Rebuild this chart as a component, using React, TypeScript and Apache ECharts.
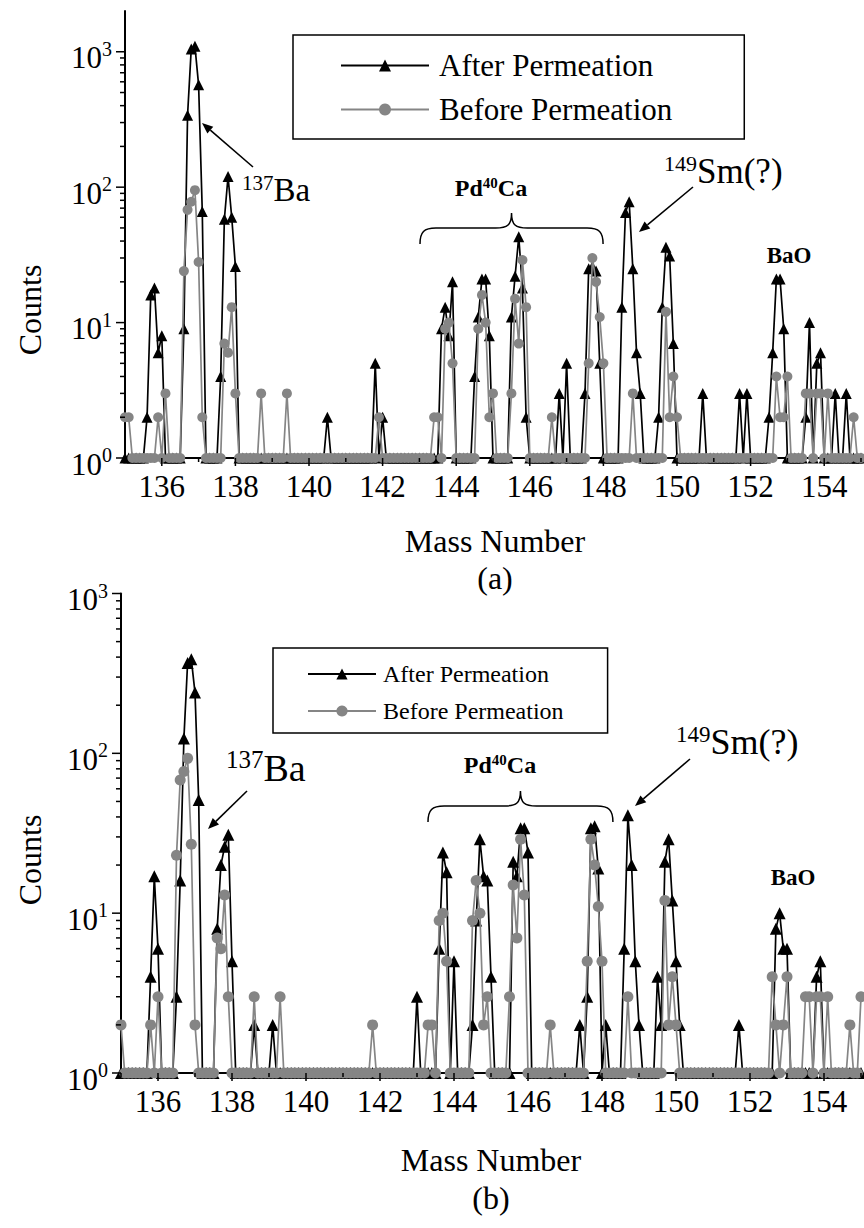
import React, { useEffect, useRef } from 'react';
import * as echarts from 'echarts';

// ---------- data ----------
const MASS_START = 135;
const MASS_STEP = 0.1;
const MASS_COUNT = 201; // 135.0 ... 155.0
const MASS = Array.from({ length: MASS_COUNT }, (_, i) => +(MASS_START + i * MASS_STEP).toFixed(1));

const X_TICK_VALUES = [135, 136, 137, 138, 139, 140, 141, 142, 143, 144, 145, 146, 147, 148, 149, 150, 151, 152, 153, 154, 155];
const X_LABEL_VALUES = [136, 138, 140, 142, 144, 146, 148, 150, 152, 154];
const Y_MAJOR = [1, 10, 100, 1000];
const Y_MINOR = [2, 3, 4, 5, 6, 7, 8, 9, 20, 30, 40, 50, 60, 70, 80, 90, 200, 300, 400, 500, 600, 700, 800, 900];

// (a) After Permeation — one row per mass unit (x.0 ... x.9)
const AFTER_A = [
  1, 1, 1, 1, 1, 1, 2, 16, 18, 6, // 135
  8, 1, 1, 1, 1, 1, 9, 340, 1050, 1100, // 136
  570, 66, 1, 1, 1, 1, 4, 58, 120, 60, // 137
  26, 1, 1, 1, 1, 1, 1, 1, 1, 1, // 138
  1, 1, 1, 1, 1, 1, 1, 1, 1, 1, // 139
  1, 1, 1, 1, 1, 2, 1, 1, 1, 1, // 140
  1, 1, 1, 1, 1, 1, 1, 1, 5, 1, // 141
  2, 1, 1, 1, 1, 1, 1, 1, 1, 1, // 142
  1, 1, 1, 1, 1, 1, 9, 13, 8, 20, // 143
  1, 1, 1, 1, 1, 4, 11, 21, 21, 8, // 144
  1, 1, 1, 1, 1, 11, 22, 43, 18, 2, // 145
  1, 1, 1, 1, 1, 1, 1, 1, 3, 1, // 146
  5, 1, 1, 1, 1, 3, 25, 26, 24, 5, // 147
  1, 1, 1, 1, 1, 13, 65, 78, 25, 6, // 148
  3, 1, 1, 1, 1, 2, 13, 36, 31, 7, // 149
  1, 1, 1, 1, 1, 1, 1, 3, 1, 1, // 150
  1, 1, 1, 1, 1, 1, 1, 3, 1, 3, // 151
  1, 1, 1, 1, 1, 2, 6, 21, 21, 9, // 152
  1, 1, 1, 1, 1, 2, 10, 1, 5, 6, // 153
  1, 1, 1, 3, 1, 1, 3, 1, 1, 1, // 154
  1, // 155
];

// (a) Before Permeation
const BEFORE_A = [
  2, 2, 1, 1, 1, 1, 1, 1, 1, 2, // 135
  1, 3, 1, 1, 1, 1, 24, 68, 78, 95, // 136
  28, 2, 1, 1, 1, 1, 1, 7, 6, 13, // 137
  3, 1, 1, 1, 1, 1, 1, 3, 1, 1, // 138
  1, 1, 1, 1, 3, 1, 1, 1, 1, 1, // 139
  1, 1, 1, 1, 1, 1, 1, 1, 1, 1, // 140
  1, 1, 1, 1, 1, 1, 1, 1, 1, 2, // 141
  1, 1, 1, 1, 1, 1, 1, 1, 1, 1, // 142
  1, 1, 1, 1, 2, 2, 1, 9, 10, 5, // 143
  1, 1, 1, 1, 1, 1, 9, 16, 10, 2, // 144
  3, 1, 1, 1, 1, 3, 15, 7, 29, 13, // 145
  1, 1, 1, 1, 1, 1, 2, 1, 1, 1, // 146
  1, 1, 1, 1, 1, 1, 5, 30, 20, 11, // 147
  5, 1, 1, 1, 1, 1, 1, 1, 3, 1, // 148
  1, 1, 1, 1, 1, 1, 1, 12, 2, 4, // 149
  2, 1, 1, 1, 1, 1, 1, 1, 1, 1, // 150
  1, 1, 1, 1, 1, 1, 1, 1, 1, 1, // 151
  1, 1, 1, 1, 1, 1, 1, 4, 2, 2, // 152
  4, 1, 1, 1, 1, 3, 3, 1, 3, 3, // 153
  1, 3, 1, 1, 1, 1, 1, 1, 2, 1, // 154
  1, // 155
];

// (b) After Permeation
const AFTER_B = [
  1, 1, 1, 1, 1, 1, 1, 1, 4, 17, // 135
  6, 1, 1, 1, 1, 3, 16, 124, 367, 388, // 136
  240, 51, 1, 1, 1, 1, 8, 20, 26, 31, // 137
  5, 1, 1, 1, 1, 1, 2, 1, 1, 1, // 138
  1, 2, 1, 1, 1, 1, 1, 1, 1, 1, // 139
  1, 1, 1, 1, 1, 1, 1, 1, 1, 1, // 140
  1, 1, 1, 1, 1, 1, 1, 1, 1, 1, // 141
  1, 1, 1, 1, 1, 1, 1, 1, 1, 1, // 142
  3, 1, 1, 1, 1, 1, 6, 24, 18, 1, // 143
  5, 1, 1, 1, 1, 2, 9, 29, 17, 16, // 144
  4, 1, 1, 1, 1, 1, 21, 17, 34, 34, // 145
  24, 1, 1, 1, 1, 1, 1, 1, 1, 1, // 146
  1, 1, 1, 1, 2, 1, 3, 34, 35, 19, // 147
  1, 2, 1, 1, 1, 1, 6, 41, 20, 5, // 148
  2, 1, 1, 1, 1, 4, 2, 21, 29, 12, // 149
  5, 2, 1, 1, 1, 1, 1, 1, 1, 1, // 150
  1, 1, 1, 1, 1, 1, 1, 2, 1, 1, // 151
  1, 1, 1, 1, 1, 1, 1, 8, 10, 6, // 152
  6, 1, 1, 1, 1, 1, 1, 1, 4, 5, // 153
  1, 1, 1, 1, 1, 1, 1, 1, 1, 1, // 154
  1, // 155
];

// (b) Before Permeation
const BEFORE_B = [
  2, 1, 1, 1, 1, 1, 1, 1, 2, 1, // 135
  3, 1, 1, 1, 1, 23, 68, 77, 93, 27, // 136
  2, 1, 1, 1, 1, 1, 7, 6, 13, 3, // 137
  1, 1, 1, 1, 1, 1, 3, 1, 1, 1, // 138
  1, 1, 1, 3, 1, 1, 1, 1, 1, 1, // 139
  1, 1, 1, 1, 1, 1, 1, 1, 1, 1, // 140
  1, 1, 1, 1, 1, 1, 1, 1, 2, 1, // 141
  1, 1, 1, 1, 1, 1, 1, 1, 1, 1, // 142
  1, 1, 1, 2, 2, 1, 9, 10, 5, 1, // 143
  1, 1, 1, 1, 1, 9, 16, 10, 2, 3, // 144
  1, 1, 1, 1, 1, 3, 15, 7, 29, 13, // 145
  1, 1, 1, 1, 1, 1, 2, 1, 1, 1, // 146
  1, 1, 1, 1, 1, 1, 5, 29, 20, 11, // 147
  5, 1, 1, 1, 1, 1, 1, 3, 1, 1, // 148
  1, 1, 1, 1, 1, 1, 1, 12, 2, 4, // 149
  2, 1, 1, 1, 1, 1, 1, 1, 1, 1, // 150
  1, 1, 1, 1, 1, 1, 1, 1, 1, 1, // 151
  1, 1, 1, 1, 1, 1, 4, 2, 1, 2, // 152
  4, 1, 1, 1, 1, 3, 3, 1, 3, 3, // 153
  1, 3, 1, 1, 1, 1, 1, 2, 1, 1, // 154
  3, // 155
];

const SERIES_NAMES = ['After Permeation', 'Before Permeation'];

// ---------- styling ----------
const FONT = 'Liberation Serif';
const BLACK = '#000000';
const GREY = '#858585';

const BRACE_D =
  'M0,31 C0,19 4,15 16,15 L76,15 C88,15 92,12 92,0 C92,12 96,15 108,15 L168,15 C180,15 184,19 184,31';

let braceRegistered = false;
function registerBrace() {
  if (braceRegistered) return;
  echarts.graphic.registerShape('brace', echarts.graphic.extendPath(BRACE_D, {}));
  braceRegistered = true;
}

function arrow(x1: number, y1: number, x2: number, y2: number) {
  const ang = Math.atan2(y2 - y1, x2 - x1);
  const L = 11;
  const W = 4.5;
  const bx = x2 - L * Math.cos(ang);
  const by = y2 - L * Math.sin(ang);
  const px = -Math.sin(ang);
  const py = Math.cos(ang);
  return [
    { type: 'line', shape: { x1, y1, x2: bx, y2: by }, style: { stroke: BLACK, lineWidth: 1.6 } },
    {
      type: 'polygon',
      shape: { points: [[x2, y2], [bx + W * px, by + W * py], [bx - W * px, by - W * py]] },
      style: { fill: BLACK },
    },
  ];
}

function supText(x: number, y: number, sup: string, main: string, supSize: number, mainSize: number, bold = false, align = 'left') {
  return {
    type: 'text',
    x,
    y,
    style: {
      text: `{s|${sup}}{b|${main}}`,
      align,
      verticalAlign: 'middle',
      rich: {
        s: { fontFamily: FONT, fontSize: supSize, fontWeight: bold ? 'bold' : 'normal', fill: BLACK, padding: [0, 0, Math.round(mainSize * 0.45), 0] },
        b: { fontFamily: FONT, fontSize: mainSize, fontWeight: bold ? 'bold' : 'normal', fill: BLACK },
      },
    },
  };
}

function pdCa(x: number, y: number, size: number) {
  return {
    type: 'text',
    x,
    y,
    style: {
      text: '{b|Pd}{s|40}{b|Ca}',
      align: 'center',
      verticalAlign: 'middle',
      rich: {
        b: { fontFamily: FONT, fontSize: size, fontWeight: 'bold', fill: BLACK },
        s: { fontFamily: FONT, fontSize: Math.round(size * 0.62), fontWeight: 'bold', fill: BLACK, padding: [0, 0, Math.round(size * 0.45), 0] },
      },
    },
  };
}

function plainText(x: number, y: number, text: string, size: number, extra: any = {}) {
  return {
    type: 'text',
    x,
    y,
    ...extra,
    style: { text, fontFamily: FONT, fontSize: size, fill: BLACK, align: 'center', verticalAlign: 'middle', ...(extra.style || {}) },
  };
}

function isPow10(v: number) {
  const e = Math.round(Math.log10(v));
  return Math.abs(v - Math.pow(10, e)) < 1e-6 * v ? e : null;
}

function buildOption() {
  const grids = [
    { left: 125, top: 11, width: 740, height: 447 },
    { left: 121, top: 593.5, width: 740, height: 479.5 },
  ];
  const yMax = [2000, 1000];

  const xAxes = grids.map((_, gi) => ({
    type: 'value',
    gridIndex: gi,
    min: 135,
    max: 155,
    interval: 1,
    axisLine: { show: true, lineStyle: { color: BLACK, width: 2 } },
    axisTick: { show: false },
    splitLine: { show: false },
    axisLabel: {
      color: BLACK,
      fontFamily: FONT,
      fontSize: 31,
      margin: 13,
      formatter: (v: number) => (X_LABEL_VALUES.includes(Math.round(v)) ? String(Math.round(v)) : ''),
    },
  }));

  const yAxes = grids.map((_, gi) => ({
    type: 'log',
    gridIndex: gi,
    logBase: 10,
    min: 1,
    max: yMax[gi],
    axisLine: { show: true, lineStyle: { color: BLACK, width: 2 } },
    axisTick: { show: false },
    splitLine: { show: false },
    axisLabel: {
      margin: 13,
      formatter: (v: number) => {
        const e = isPow10(v);
        return e === null ? '' : `{b|10}{s|${e}}`;
      },
      rich: {
        b: { fontFamily: FONT, fontSize: 31, color: BLACK, padding: [12, 0, 0, 0] },
        s: { fontFamily: FONT, fontSize: 20, color: BLACK, padding: [0, 0, 6, 0] },
      },
    },
  }));

  const lineSeries = (gi: number, name: string, values: number[], isAfter: boolean, sizes: number[]) => ({
    type: 'line',
    name,
    xAxisIndex: gi,
    yAxisIndex: gi,
    data: values.map((v, i) => [MASS[i], v]),
    symbol: isAfter ? 'triangle' : 'circle',
    symbolSize: isAfter ? sizes[0] : sizes[1],
    showAllSymbol: true,
    clip: false,
    z: isAfter ? 2 : 3,
    lineStyle: { color: isAfter ? BLACK : GREY, width: 1.7 },
    itemStyle: { color: isAfter ? BLACK : GREY },
    emphasis: { disabled: true },
  });

  const yTickSeries = (gi: number) => ({
    type: 'custom',
    xAxisIndex: gi,
    yAxisIndex: gi,
    silent: true,
    z: 5,
    encode: { x: 0, y: 1 },
    data: [
      ...Y_MAJOR.filter((v) => v <= yMax[gi]).map((v) => [135, v, 9]),
      ...Y_MINOR.filter((v) => v <= yMax[gi]).map((v) => [135, v, 5]),
    ],
    renderItem: (params: any, api: any) => {
      const p = api.coord([api.value(0), api.value(1)]);
      const len = api.value(2);
      return { type: 'line', shape: { x1: p[0] - len, y1: p[1], x2: p[0], y2: p[1] }, style: { stroke: BLACK, lineWidth: 1.5 } };
    },
  });

  const xTickSeries = (gi: number) => ({
    type: 'custom',
    xAxisIndex: gi,
    yAxisIndex: gi,
    silent: true,
    z: 5,
    encode: { x: 0, y: 1 },
    data: X_TICK_VALUES.map((m) => [m, 1, X_LABEL_VALUES.includes(m) ? 8 : 4]),
    renderItem: (params: any, api: any) => {
      const p = api.coord([api.value(0), api.value(1)]);
      const len = api.value(2);
      return { type: 'line', shape: { x1: p[0], y1: p[1], x2: p[0], y2: p[1] + len }, style: { stroke: BLACK, lineWidth: 1.5 } };
    },
  });

  const legends = [
    {
      orient: 'vertical',
      left: 293,
      top: 35,
      data: SERIES_NAMES,
      itemWidth: 88,
      itemHeight: 15,
      itemGap: 13,
      padding: [15, 72, 14, 47],
      borderColor: BLACK,
      borderWidth: 1.5,
      selectedMode: false,
      textStyle: { fontFamily: FONT, fontSize: 31, color: BLACK, padding: [0, 0, 0, 5] },
    },
    {
      orient: 'vertical',
      left: 273,
      top: 648,
      data: SERIES_NAMES,
      itemWidth: 68,
      itemHeight: 14,
      itemGap: 13,
      padding: [14, 44, 10, 34],
      borderColor: BLACK,
      borderWidth: 1.5,
      selectedMode: false,
      textStyle: { fontFamily: FONT, fontSize: 24, color: BLACK, padding: [0, 0, 0, 2] },
    },
  ];

  const graphics: any[] = [
    // panel (a)
    plainText(30, 310, 'Counts', 32, { rotation: Math.PI / 2 }),
    plainText(495, 541, 'Mass Number', 32),
    plainText(495, 578, '(a)', 32),
    supText(242, 190, '137', 'Ba', 21, 33),
    ...arrow(253, 167, 202, 123),
    pdCa(491, 188, 24),
    { type: 'brace', x: 420, y: 213, scaleX: 183 / 184, style: { fill: 'none', stroke: BLACK, lineWidth: 1.5 } },
    supText(664, 171, '149', 'Sm(?)', 22, 35),
    ...arrow(693, 187, 639, 232),
    plainText(789, 255, 'BaO', 23, { style: { fontWeight: 'bold' } }),
    // panel (b)
    plainText(30, 860, 'Counts', 32, { rotation: Math.PI / 2 }),
    plainText(491, 1160, 'Mass Number', 32),
    plainText(491, 1198, '(b)', 32),
    supText(226, 768, '137', 'Ba', 25, 38),
    ...arrow(247, 791, 208, 829),
    pdCa(500, 765, 24),
    { type: 'brace', x: 428, y: 791, scaleX: 185 / 184, style: { fill: 'none', stroke: BLACK, lineWidth: 1.5 } },
    supText(676, 742, '149', 'Sm(?)', 23, 36),
    ...arrow(690, 759, 635, 806),
    plainText(793, 877, 'BaO', 23, { style: { fontWeight: 'bold' } }),
  ];

  return {
    animation: false,
    backgroundColor: '#ffffff',
    grid: grids,
    xAxis: xAxes,
    yAxis: yAxes,
    legend: legends,
    series: [
      xTickSeries(0),
      yTickSeries(0),
      lineSeries(0, SERIES_NAMES[0], AFTER_A, true, [11, 10]),
      lineSeries(0, SERIES_NAMES[1], BEFORE_A, false, [11, 10]),
      xTickSeries(1),
      yTickSeries(1),
      lineSeries(1, SERIES_NAMES[0], AFTER_B, true, [12, 11]),
      lineSeries(1, SERIES_NAMES[1], BEFORE_B, false, [12, 11]),
    ],
    graphic: graphics,
  };
}

export default function App() {
  const ref = useRef<HTMLDivElement>(null);
  useEffect(() => {
    if (!ref.current) return;
    registerBrace();
    const chart = echarts.init(ref.current, undefined, { renderer: 'svg' });
    chart.setOption(buildOption() as any);
    return () => chart.dispose();
  }, []);
  return (
    <div
      ref={ref}
      style={{ position: 'absolute', left: 0, top: 0, width: 864, height: 1228, background: '#fff' }}
    />
  );
}
